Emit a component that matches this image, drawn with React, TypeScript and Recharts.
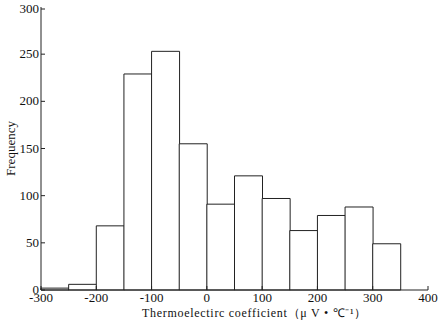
import React from "react";
import { BarChart, Bar, XAxis, YAxis, Label } from "recharts";

// histogram bins (width 50), left edges
const binStarts = [-300, -250, -200, -150, -100, -50, 0, 50, 100, 150, 200, 250, 300, 350];
const counts = [2, 6, 68, 229, 253, 155, 91, 121, 97, 63, 79, 88, 49, null];
const xTicks = [-300, -200, -100, 0, 100, 200, 300, 400];
const yTicks = [0, 50, 100, 150, 200, 250, 300];

const data = binStarts.map((b, i) => ({ bin: String(b), start: b, count: counts[i] }));

const font = "'Liberation Serif', 'Times New Roman', serif";

const YTick = ({ x, y, payload }: any) => (
  <g>
    <line x1={x + 2} x2={x + 6} y1={y} y2={y} stroke="#222" />
    <text x={x} y={y} dy={4} textAnchor="end" style={{ fontSize: 13, fontFamily: font }} fill="#111">
      {payload.value}
    </text>
  </g>
);

const XTick = ({ x, y, payload }: any) => (
  <g>
    <line x1={x} x2={x} y1={y} y2={y - 4} stroke="#222" />
    <text x={x} y={y + 12} textAnchor="middle" style={{ fontSize: 13, fontFamily: font }} fill="#111">
      {payload.value}
    </text>
  </g>
);

export default function App() {
  return (
    <div style={{ width: 442, height: 320, background: "#fff" }}>
      <style>{`body{margin:0}`}</style>
      <BarChart
        width={442}
        height={320}
        data={data}
        margin={{ top: 7, right: 14, bottom: 0, left: 0 }}
        barCategoryGap={0}
        barGap={0}
      >
        <XAxis xAxisId="bins" dataKey="bin" type="category" hide height={0} />
        <XAxis
          xAxisId="val"
          dataKey="start"
          type="number"
          domain={[-300, 400]}
          ticks={xTicks}
          allowDataOverflow
          height={30}
          tickSize={0}
          tickMargin={0}
          tick={<XTick />}
          axisLine={{ stroke: "#222" }}
        >
          <Label
            value="Thermoelectirc coefficient（μ V • ℃⁻¹）"
            position="insideBottom"
            offset={3}
            dx={20}
            style={{ fontSize: 12, fontFamily: font, fill: "#111", letterSpacing: 0.7 }}
          />
        </XAxis>
        <YAxis
          domain={[0, 300]}
          ticks={yTicks}
          width={41}
          tickSize={0}
          tickMargin={2}
          tick={<YTick />}
          axisLine={{ stroke: "#222" }}
        >
          <Label
            value="Frequency"
            angle={-90}
            position="insideLeft"
            offset={10}
            style={{ fontSize: 13, fontFamily: font, fill: "#111", textAnchor: "middle" }}
          />
        </YAxis>
        <Bar
          xAxisId="bins"
          dataKey="count"
          fill="#fff"
          stroke="#222"
          strokeWidth={1}
          isAnimationActive={false}
        />
      </BarChart>
    </div>
  );
}
